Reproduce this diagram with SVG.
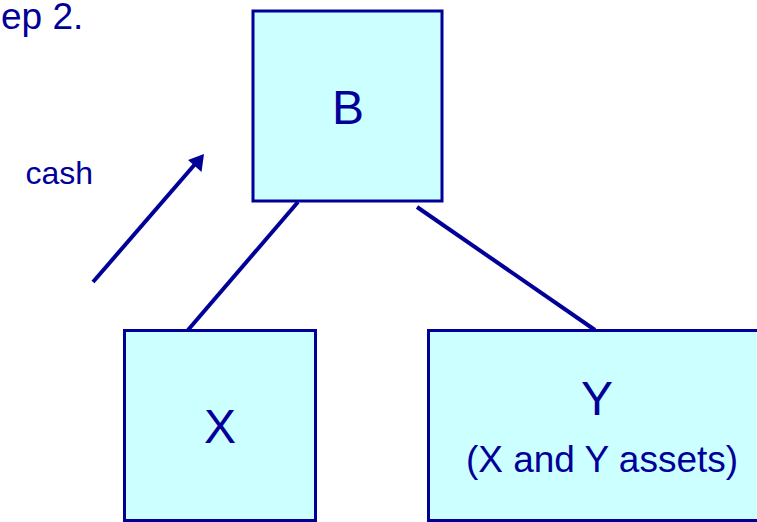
<svg xmlns="http://www.w3.org/2000/svg" width="757" height="522" viewBox="0 0 757 522">
<style>
.box{fill:#CCFFFF;stroke:#000099;stroke-width:3}
.t{font-family:"Liberation Sans",Arial,sans-serif;fill:#000099}
.ln{stroke:#000099;stroke-width:4;fill:none}
</style>
<rect width="757" height="522" fill="#ffffff"/>
<text class="t" x="1" y="29" font-size="37">ep 2.</text>
<text class="t" x="93" y="184" font-size="32" text-anchor="end">cash</text>
<g id="connectors">
<line class="ln" x1="298" y1="202" x2="188" y2="330"/>
<line class="ln" x1="417" y1="207" x2="595" y2="330"/>
<line class="ln" x1="93" y1="282" x2="196" y2="163"/>
<path d="M204,154 L201.5,172 L188,160 z" fill="#000099"/>
</g>
<g id="B">
<rect class="box" x="253" y="11" width="189" height="190"/>
<text class="t" x="348" y="124" font-size="48" text-anchor="middle">B</text>
</g>
<g id="X">
<rect class="box" x="124.5" y="330.5" width="191" height="190"/>
<text class="t" x="220" y="443" font-size="48" text-anchor="middle">X</text>
</g>
<g id="Y">
<rect class="box" x="428.5" y="330.5" width="340" height="190"/>
<text class="t" x="597" y="415" font-size="48" text-anchor="middle">Y</text>
<text class="t" x="602" y="472" font-size="37" text-anchor="middle">(X and Y assets)</text>
</g>
</svg>
